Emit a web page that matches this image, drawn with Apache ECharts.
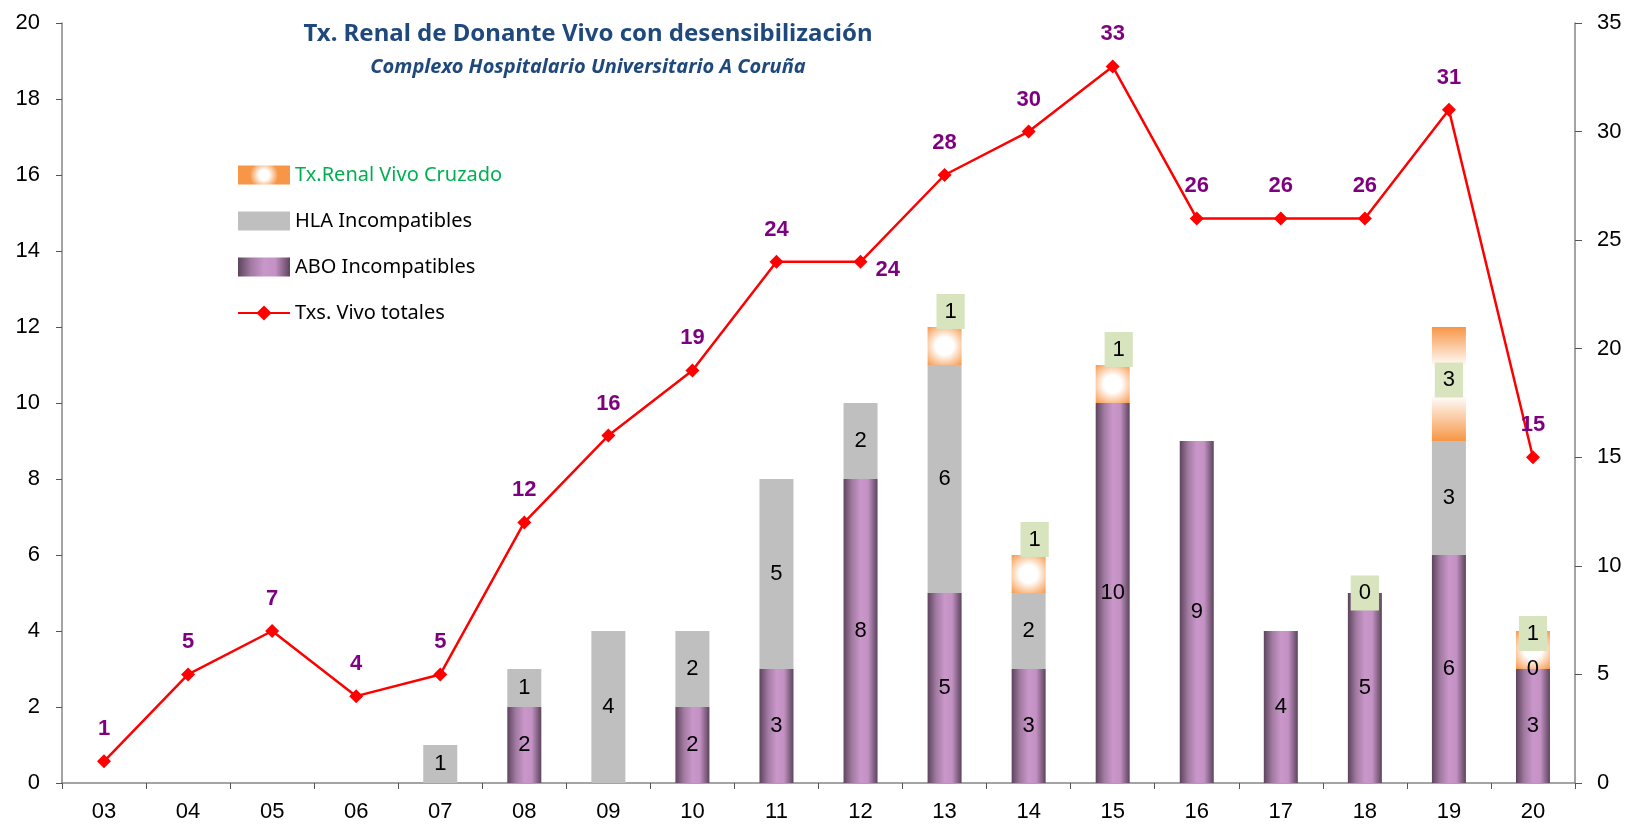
<!DOCTYPE html>
<html>
<head>
<meta charset="utf-8">
<script src="https://cdn.jsdelivr.net/npm/echarts@6/dist/echarts.min.js"></script>
<style>
  html, body { margin: 0; padding: 0; background: #fff; }
  #chart { width: 1633px; height: 827px; }
</style>
</head>
<body>
<div id="chart"></div>
<script>
// years (2003..2020)
var years = ['03','04','05','06','07','08','09','10','11','12','13','14','15','16','17','18','19','20'];

// stacked bars (left axis); null = nothing drawn / no label
var aboValues     = [null, null, null, null, null, 2, null, 2, 3, 8, 5, 3, 10, 9, 4, 5, 6, 3];
var hlaValues     = [null, null, null, null, 1, 1, 4, 2, 5, 2, 6, 2, null, null, null, null, 3, 0];
var cruzadoValues = [null, null, null, null, null, null, null, null, null, null, 1, 1, 1, null, null, 0, 3, 1];

// total line (right axis)
var totalValues   = [1, 5, 7, 4, 5, 12, 16, 19, 24, 24, 28, 30, 33, 26, 26, 26, 31, 15];

var leftTicks  = {min: 0, max: 20, interval: 2};
var rightTicks = {min: 0, max: 35, interval: 5};

var numFont = '"Liberation Sans", Arial, sans-serif';
var textFont = '"Noto Sans", "Open Sans", sans-serif';

var aboColor = {
    type: 'linear', x: 0, y: 0, x2: 1, y2: 0,
    colorStops: [
        {offset: 0, color: '#5c445c'},
        {offset: 0.25, color: '#a27aa2'},
        {offset: 0.5, color: '#c997c9'},
        {offset: 0.72, color: '#c391c3'},
        {offset: 1, color: '#5c445c'}
    ]
};
var cruzadoColor = {
    type: 'radial', x: 0.5, y: 0.5, r: 0.75,
    colorStops: [
        {offset: 0, color: '#ffffff'},
        {offset: 0.35, color: '#ffffff'},
        {offset: 1, color: '#f79646'}
    ]
};
// tall block: white band across the middle
var cruzadoTallColor = {
    type: 'linear', x: 0, y: 0, x2: 0, y2: 1,
    colorStops: [
        {offset: 0, color: '#f79646'},
        {offset: 0.35, color: '#ffffff'},
        {offset: 0.6, color: '#ffffff'},
        {offset: 1, color: '#f79646'}
    ]
};

var barLabel = {
    show: true,
    position: 'inside',
    color: '#000',
    fontFamily: numFont,
    fontSize: 22
};

// label boxes for the crossed transplant series
var cruzadoLabel = {
    show: true,
    position: 'top',
    distance: -2,
    offset: [6, 0],
    color: '#000',
    fontFamily: numFont,
    fontSize: 22,
    backgroundColor: '#d7e4bd',
    padding: [7, 8, 6, 8]
};
var cruzadoData = cruzadoValues.map(function (v, i) {
    if (v === null) return null;
    if (years[i] === '18') {
        return {value: v, label: {position: 'inside', offset: [0, 0]}};
    }
    if (years[i] === '19') {
        return {value: v, itemStyle: {color: cruzadoTallColor}, label: {position: 'inside', offset: [0, -4]}};
    }
    if (years[i] === '20') {
        return {value: v, label: {distance: -20, offset: [0, 0]}};
    }
    return v;
});

var totalData = totalValues.map(function (v, i) {
    if (years[i] === '12') {
        return {value: v, label: {position: 'right', distance: 8, offset: [0, 8]}};
    }
    return v;
});

var chart = echarts.init(document.getElementById('chart'));

chart.setOption({
    animation: false,
    title: [{
        text: 'Tx. Renal de Donante Vivo con desensibilización',
        left: 583, top: 17, textAlign: 'center',
        textStyle: {color: '#1f497d', fontFamily: textFont, fontWeight: 'bold', fontSize: 24}
    }, {
        text: 'Complexo Hospitalario Universitario A Coruña',
        left: 583, top: 52, textAlign: 'center',
        textStyle: {color: '#1f497d', fontFamily: textFont, fontWeight: 'bold', fontStyle: 'italic', fontSize: 20}
    }],
    legend: {
        orient: 'vertical',
        left: 232, top: 160,
        itemWidth: 52, itemHeight: 19, itemGap: 26,
        textStyle: {fontFamily: textFont, fontSize: 20, color: '#000'},
        data: [
            {name: 'Tx.Renal Vivo Cruzado', icon: 'rect', textStyle: {color: '#00b050'}},
            {name: 'HLA Incompatibles', icon: 'rect'},
            {name: 'ABO Incompatibles', icon: 'rect'},
            {name: 'Txs. Vivo totales'}
        ]
    },
    grid: {left: 62, right: 58, top: 23, bottom: 44},
    xAxis: {
        type: 'category',
        data: years,
        axisLine: {lineStyle: {color: '#868686', width: 1.5}},
        axisTick: {show: true, alignWithLabel: false, length: 6, lineStyle: {color: '#555'}},
        axisLabel: {color: '#000', fontFamily: numFont, fontSize: 22, margin: 18}
    },
    yAxis: [{
        type: 'value',
        min: leftTicks.min, max: leftTicks.max, interval: leftTicks.interval,
        splitLine: {show: false},
        axisLine: {show: true, lineStyle: {color: '#868686', width: 1.5}},
        axisTick: {show: true, length: 6, lineStyle: {color: '#555'}},
        axisLabel: {color: '#000', fontFamily: numFont, fontSize: 22, margin: 22}
    }, {
        type: 'value',
        position: 'right',
        min: rightTicks.min, max: rightTicks.max, interval: rightTicks.interval,
        splitLine: {show: false},
        axisLine: {show: true, lineStyle: {color: '#868686', width: 1.5}},
        axisTick: {show: true, length: 7, lineStyle: {color: '#555'}},
        axisLabel: {color: '#000', fontFamily: numFont, fontSize: 22, margin: 22}
    }],
    series: [{
        name: 'ABO Incompatibles',
        type: 'bar',
        stack: 'tx',
        barWidth: 34,
        itemStyle: {color: aboColor},
        label: barLabel,
        data: aboValues,
        z: 2
    }, {
        name: 'HLA Incompatibles',
        type: 'bar',
        stack: 'tx',
        barWidth: 34,
        itemStyle: {color: '#bfbfbf'},
        label: barLabel,
        data: hlaValues,
        z: 2
    }, {
        name: 'Tx.Renal Vivo Cruzado',
        type: 'bar',
        stack: 'tx',
        barWidth: 34,
        itemStyle: {color: cruzadoColor},
        label: cruzadoLabel,
        data: cruzadoData,
        z: 2
    }, {
        name: 'Txs. Vivo totales',
        type: 'line',
        yAxisIndex: 1,
        symbol: 'diamond',
        symbolSize: 14,
        itemStyle: {color: '#ff0000'},
        lineStyle: {color: '#ff0000', width: 2.5},
        label: {
            show: true,
            position: 'top',
            distance: 14,
            color: '#7f007f',
            fontFamily: numFont,
            fontWeight: 'bold',
            fontSize: 22
        },
        data: totalData,
        z: 5
    }]
});
</script>
</body>
</html>
